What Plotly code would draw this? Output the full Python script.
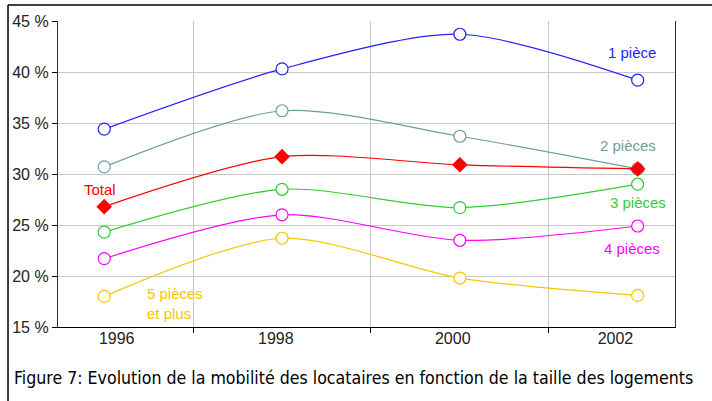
import plotly.graph_objects as go

years = [1996, 1998, 2000, 2002]

piece_1 = [34.4, 40.3, 43.7, 39.2]
pieces_2 = [30.7, 36.2, 33.7, 30.5]
total = [26.8, 31.7, 30.9, 30.5]
pieces_3 = [24.3, 28.5, 26.7, 29.0]
pieces_4 = [21.7, 26.0, 23.5, 24.9]
pieces_5 = [18.0, 23.7, 19.8, 18.1]

year_labels = ["1996", "1998", "2000", "2002"]
caption = "Figure 7: Evolution de la mobilité des locataires en fonction de la taille des logements"

series = [
    ("1 pièce", piece_1, "#1f1fff", "circle-open"),
    ("2 pièces", pieces_2, "#6e9e9e", "circle-open"),
    ("Total", total, "#ff0000", "diamond"),
    ("3 pièces", pieces_3, "#33cc33", "circle-open"),
    ("4 pièces", pieces_4, "#ff00ff", "circle-open"),
    ("5 pièces et plus", pieces_5, "#f7c600", "circle-open"),
]

fig = go.Figure()
for name, vals, color, symbol in series:
    if symbol == "diamond":
        marker = dict(symbol="diamond", size=12, color=color, line=dict(width=0))
    else:
        marker = dict(symbol="circle", size=12, color="white", line=dict(color=color, width=1.2))
    fig.add_trace(go.Scatter(
        x=years, y=vals, name=name, mode="lines+markers",
        line=dict(color=color, width=1.2, shape="spline", smoothing=0.8),
        marker=marker, showlegend=False, hoverinfo="x+y",
    ))

# dummy trace so the label axis is drawn
fig.add_trace(go.Scatter(x=[1997], y=[30], xaxis="x2", mode="markers",
                         marker=dict(opacity=0), showlegend=False, hoverinfo="skip"))

xr = [1995.48, 2002.42]
fig.update_layout(
    width=712, height=401,
    margin=dict(l=58, r=37, t=21, b=74),
    paper_bgcolor="white", plot_bgcolor="white",
    font=dict(family="Liberation Sans, Arial, sans-serif", color="#222", size=16),
    xaxis=dict(
        range=xr, tickvals=[1997, 1999, 2001], showticklabels=False,
        ticks="outside", ticklen=5, tickcolor="black",
        showgrid=True, gridcolor="#c8c8c8", gridwidth=1,
        showline=True, linecolor="black", linewidth=1.2, zeroline=False,
    ),
    xaxis2=dict(
        range=xr, overlaying="x", side="bottom",
        tickvals=[1996.14, 1997.93, 1999.92, 2001.75], ticktext=year_labels,
        ticks="", showgrid=False, showline=False, zeroline=False,
        tickfont=dict(size=16, color="#222"),
    ),
    yaxis=dict(
        range=[15, 45], dtick=5, ticksuffix=" %",
        ticks="outside", ticklen=5, tickcolor="black",
        showgrid=True, gridcolor="#c8c8c8", gridwidth=1,
        showline=True, linecolor="#333", linewidth=1.2, mirror=True, zeroline=False,
        tickfont=dict(size=16, color="#222"),
    ),
)

labels = [
    ("1 pièce", 2001.94, 41.9, "#1f1fff", "center"),
    ("2 pièces", 2001.89, 32.8, "#6e9e9e", "center"),
    ("Total", 1995.95, 28.5, "#ff0000", "center"),
    ("3 pièces", 2002.0, 27.2, "#33cc33", "center"),
    ("4 pièces", 2001.94, 22.7, "#ff00ff", "center"),
    ("5 pièces<br>et plus", 1996.46, 17.3, "#f7c600", "left"),
]
for text, x, y, color, anchor in labels:
    fig.add_annotation(x=x, y=y, text=text, showarrow=False, xanchor=anchor,
                       align="left", font=dict(size=15, color=color))

fig.add_annotation(
    x=0.479, y=-0.167, xref="paper", yref="paper", yanchor="middle", text=caption, showarrow=False,
    font=dict(family="DejaVu Sans Condensed, Liberation Sans Narrow, sans-serif", size=17.6, color="#000"),
)

# outer frame (top and left edges)
fig.add_shape(type="line", xref="paper", yref="paper", x0=-0.081, x1=1.07, y0=1.052, y1=1.052,
              line=dict(color="black", width=1.5))
fig.add_shape(type="line", xref="paper", yref="paper", x0=-0.081, x1=-0.081, y0=1.052, y1=-0.25,
              line=dict(color="black", width=1.5))

fig.write_html("out.html", config={"displayModeBar": False},
               post_script="document.body.style.margin = '0';")
